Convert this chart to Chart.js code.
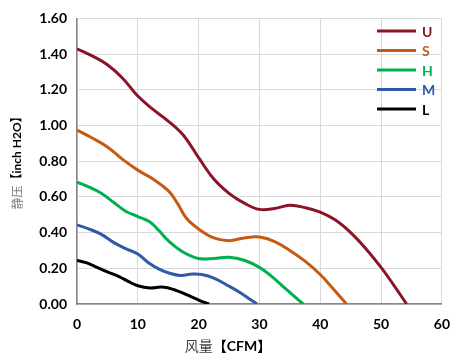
<!DOCTYPE html>
<html><head><meta charset="utf-8">
<script src="https://cdn.jsdelivr.net/npm/chart.js@4/dist/chart.umd.min.js"></script>
<style>html,body{margin:0;padding:0;background:#fff}#w{width:462px;height:363px}</style>
</head><body><div id="w"><canvas id="c"></canvas></div>
<script>
const seriesNames = ["U","S","H","M","L"];
const seriesColors = ["#8B1426","#C65A12","#00B050","#2E5AA6","#000000"];
const U_x = [0,2.5,5,7.5,10,12.5,15,17.5,20,22.5,25,27.5,30,32.5,35,37.5,40,42.5,45,47.5,50,52,54.2];
const U_y = [1.43,1.39,1.34,1.265,1.165,1.09,1.025,0.945,0.82,0.70,0.62,0.565,0.53,0.535,0.553,0.54,0.515,0.47,0.40,0.31,0.205,0.11,0];
const S_x = [0,2.5,5,7.5,10,12.5,15,16.5,18,20,22.5,25,27.5,30,32.5,35,37.5,40,42,44.3];
const S_y = [0.975,0.93,0.88,0.81,0.75,0.70,0.635,0.565,0.48,0.42,0.37,0.355,0.37,0.375,0.35,0.30,0.24,0.165,0.09,0];
const H_x = [0,2,4,6,8,10,12,13.5,15,17.5,20,22.5,25,27.5,30,32,34,35.5,37.2];
const H_y = [0.683,0.655,0.62,0.57,0.52,0.49,0.46,0.41,0.355,0.29,0.255,0.255,0.262,0.245,0.205,0.155,0.095,0.05,0];
const M_x = [0,2,4,6,8,10,12,13.5,15,17,19,20.5,22.5,25,27,28.5,29.6];
const M_y = [0.443,0.42,0.39,0.345,0.31,0.28,0.225,0.195,0.175,0.16,0.168,0.165,0.145,0.10,0.06,0.025,0];
const L_x = [0,1.5,3,5,7,8.5,10,12,14,16,18,20,21.7];
const L_y = [0.244,0.232,0.21,0.18,0.152,0.125,0.102,0.09,0.095,0.08,0.052,0.022,0];
const xTicks = [0,10,20,30,40,50,60];
const yTicks = [0,0.2,0.4,0.6,0.8,1.0,1.2,1.4,1.6];
const xTitleParts = ["风量","【CFM】"];
const yTitleParts = ["静压","【inch H2O】"];

const xs=[U_x,S_x,H_x,M_x,L_x], ys=[U_y,S_y,H_y,M_y,L_y];
const datasets = seriesNames.map((n,i)=>({
  label:n,
  data:xs[i].map((x,j)=>({x:x,y:ys[i][j]})),
  borderColor:seriesColors[i], backgroundColor:seriesColors[i],
  borderWidth:3, pointRadius:0, tension:0.4, fill:false
}));

const deco = {
  id:'deco',
  afterDraw(chart){
    const ctx=chart.ctx;
    ctx.save();
    chart.data.datasets.forEach((d,i)=>{
      const y=31+i*19.5;
      ctx.strokeStyle=d.borderColor; ctx.lineWidth=3;
      ctx.beginPath(); ctx.moveTo(377,y); ctx.lineTo(416,y); ctx.stroke();
      ctx.fillStyle=d.borderColor; ctx.font='bold 14px Lato, "Liberation Sans", sans-serif';
      ctx.textBaseline='middle'; ctx.textAlign='left';
      ctx.fillText(d.label,422,y+1);
    });
    const f1='14px "Noto Sans CJK SC"', f2='bold 14px Lato, "Noto Sans CJK SC"';
    ctx.font=f1; const w1=ctx.measureText(xTitleParts[0]).width;
    ctx.font=f2; const w2=ctx.measureText(xTitleParts[1]).width;
    let x0=228-(w1+w2)/2;
    ctx.textBaseline='middle'; ctx.textAlign='left';
    ctx.font=f1; ctx.fillStyle='#404040'; ctx.fillText(xTitleParts[0],x0,346);
    ctx.font=f2; ctx.fillStyle='#000'; ctx.fillText(xTitleParts[1],x0+w1,346);
    const g1='12px "Noto Sans CJK SC"', g2='bold 12px Lato, "Noto Sans CJK SC"';
    ctx.font=g1; const v1=ctx.measureText(yTitleParts[0]).width;
    ctx.font=g2; const v2=ctx.measureText(yTitleParts[1]).width;
    ctx.translate(17,160); ctx.rotate(-Math.PI/2);
    let s0=-(v1+v2)/2;
    ctx.font=g1; ctx.fillStyle='#7f7f7f'; ctx.fillText(yTitleParts[0],s0,0);
    ctx.font=g2; ctx.fillStyle='#000'; ctx.fillText(yTitleParts[1],s0+v1,0);
    ctx.restore();
  }
};

new Chart(document.getElementById('c'),{
  type:'line',
  data:{datasets},
  options:{
    responsive:true, maintainAspectRatio:false, animation:false,
    layout:{padding:{top:15,right:17,left:0,bottom:0}},
    plugins:{legend:{display:false},tooltip:{enabled:false}},
    scales:{
      x:{type:'linear',min:0,max:60,
        afterBuildTicks(s){s.ticks=xTicks.map(v=>({value:v}));},
        afterFit(s){s.height=59;},
        grid:{color:'#d9d9d9',lineWidth:1,drawTicks:false},
        border:{color:'#868686',width:1.5},
        ticks:{color:'#000',padding:12,font:{family:'Lato, "Liberation Sans"',size:14,weight:'bold'},maxRotation:0}
      },
      y:{type:'linear',min:0,max:1.6,
        afterBuildTicks(s){s.ticks=yTicks.map(v=>({value:v}));},
        afterFit(s){s.width=77;},
        grid:{color:'#d9d9d9',lineWidth:1,drawTicks:false},
        border:{color:'#868686',width:1.5},
        ticks:{color:'#000',padding:10,font:{family:'Lato, "Liberation Sans"',size:14,weight:'bold'},callback:v=>v.toFixed(2)}
      }
    }
  },
  plugins:[deco]
});
</script></body></html>
